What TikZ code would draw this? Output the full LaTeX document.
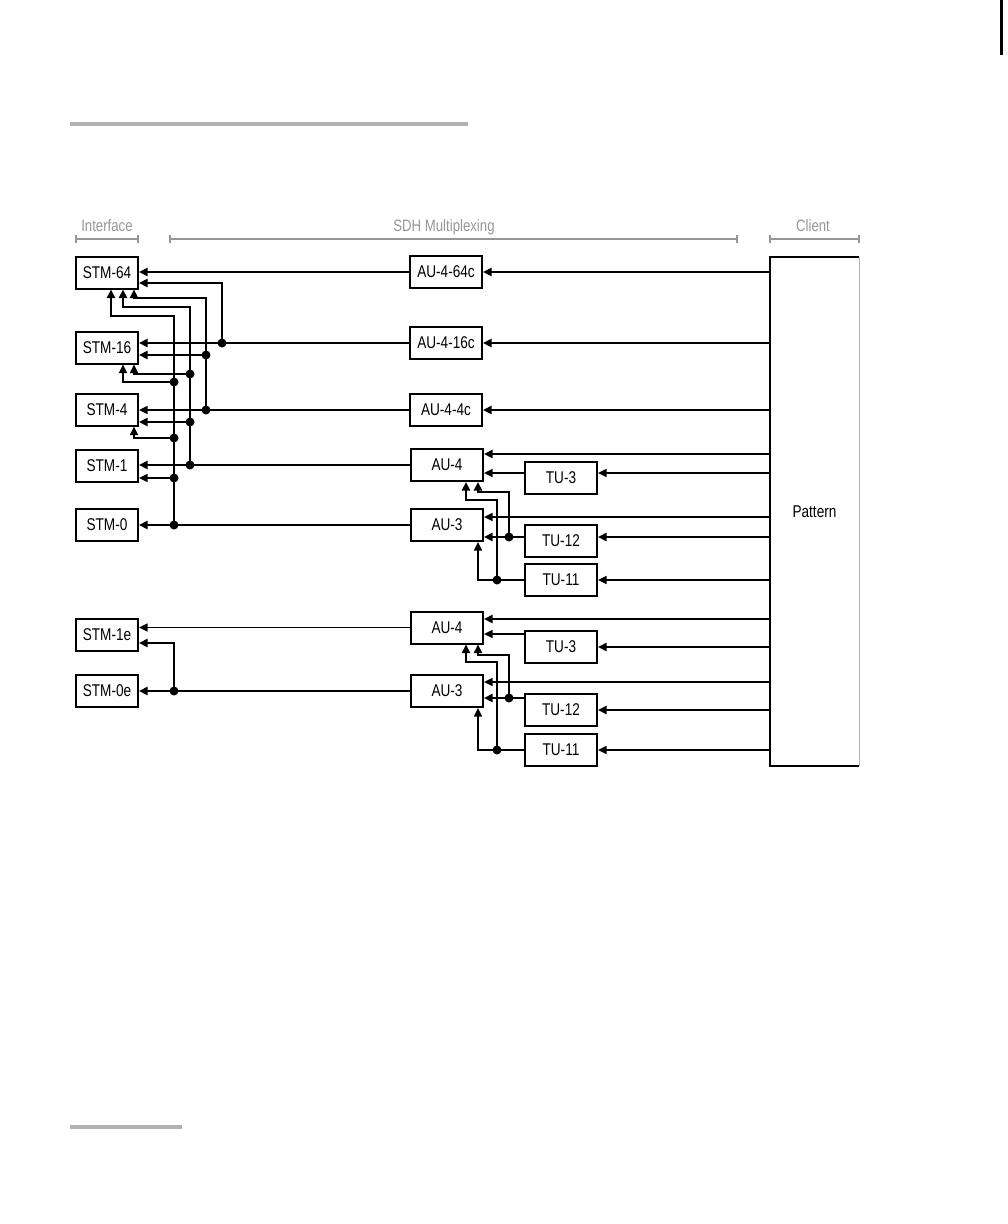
\documentclass[tikz,border=0pt]{standalone}
\usepackage{fontspec}
\setmainfont{Liberation Sans}[FakeStretch=0.8]
\usetikzlibrary{arrows.meta}
\definecolor{rulegray}{RGB}{178,178,178}
\definecolor{hdrgray}{RGB}{150,150,150}
\begin{document}
\begin{tikzpicture}[x=1pt,y=-1pt,
  box/.style={draw, line width=2pt, minimum width=62pt, minimum height=32pt, inner sep=0pt, font=\fontsize{17}{19}\selectfont},
  aubox/.style={box, minimum width=72pt},
  tk/.style={line width=2.6pt},
  tn/.style={line width=1.5pt},
  arr/.style={-{Triangle[length=8.5pt,width=8pt]}},
  hdr/.style={text=hdrgray, font=\fontsize{16.5}{18}\selectfont, inner sep=0pt},
  hl/.style={draw=hdrgray, line width=1.3pt},
  jdot/.style={fill=black}
]
\useasboundingbox (0,0) rectangle (1008,1224);

% page decorations
\draw[rulegray, line width=4pt] (70,124) -- (468,124);
\draw[rulegray, line width=4pt] (70,1127) -- (182,1127);
\draw[line width=3pt] (1001,0) -- (1001,55);

% headers
\node[hdr] (hint) at (107,226) {Interface};
\node[hdr] (hsdh) at (444,227) {SDH Multiplexing};
\node[hdr] (hcli) at (813,226) {Client};
\draw[hl] (76,235) -- (76,243) (76,239) -- (138,239) (138,235) -- (138,243);
\draw[hl] (170,235) -- (170,243) (170,239) -- (737,239) (737,235) -- (737,243);
\draw[hl] (770,235) -- (770,243) (770,239) -- (859,239) (859,235) -- (859,243);

% interface boxes
\node[box] (stm64) at (107,272.5) {STM-64};
\node[box] (stm16) at (107,347.5) {STM-16};
\node[box] (stm4)  at (107,409.5) {STM-4};
\node[box] (stm1)  at (107,465.5) {STM-1};
\node[box] (stm0)  at (107,525) {STM-0};
\node[box] (stm1e) at (107,635) {STM-1e};
\node[box] (stm0e) at (107,691) {STM-0e};

% AU boxes
\node[aubox] (au464) at (446,272) {AU-4-64c};
\node[aubox] (au416) at (446,343) {AU-4-16c};
\node[aubox] (au44)  at (446,410) {AU-4-4c};
\node[aubox] (au4a)  at (447,465) {AU-4};
\node[aubox] (au3a)  at (447,525) {AU-3};
\node[aubox] (au4b)  at (447,627.5) {AU-4};
\node[aubox] (au3b)  at (447,691) {AU-3};

% TU boxes
\node[aubox] (tu3a)  at (561,477.5) {TU-3};
\node[aubox] (tu12a) at (561,541) {TU-12};
\node[aubox] (tu11a) at (561,580) {TU-11};
\node[aubox] (tu3b)  at (561,647) {TU-3};
\node[aubox] (tu12b) at (561,710) {TU-12};
\node[aubox] (tu11b) at (561,749.5) {TU-11};

% Pattern
\node[minimum width=89pt, minimum height=509pt, inner sep=0pt, font=\fontsize{17}{19}\selectfont] (pat) at (814.5,511.5) {Pattern};
\draw[line width=2pt] (pat.north east) -- (pat.north west) -- (pat.south west) -- (pat.south east);
\draw[rulegray, line width=1pt] (pat.north east) -- (pat.south east);

% junctions
\coordinate (j16a) at (222,343);
\coordinate (j16b) at (206,355);
\coordinate (j4a)  at (206,410);
\coordinate (j16c) at (190,374);
\coordinate (j4b)  at (190,422);
\coordinate (j1a)  at (190,465);
\coordinate (j16d) at (174,382);
\coordinate (j4c)  at (174,438);
\coordinate (j1b)  at (174,478);
\coordinate (j0)   at (174,525);
\coordinate (j0e)  at (174,691);
\coordinate (k12a) at (509,537);
\coordinate (k11a) at (497,580);
\coordinate (k12b) at (509,698);
\coordinate (k11b) at (497,750);

% AU -> STM main lines
\draw[tk,arr] (au464.west) -- (stm64.east |- au464.west);
\draw[tk,arr] (au416.west) -- (stm16.east |- au416.west);
\draw[tn,arr] (au44.west)  -- (stm4.east |- au44.west);
\draw[tk,arr] (au4a.west)  -- (stm1.east |- au4a.west);
\draw[tk,arr] (au3a.west)  -- (stm0.east |- au3a.west);
\draw[tn,arr] (au4b.west)  -- (stm1e.east |- au4b.west);
\draw[tk,arr] (au3b.west)  -- (stm0e.east |- au3b.west);

% interface cross connections
\draw[tk,arr] (j16a) -- (j16a |- 0,283) -- (stm64.east |- 0,283);
\draw[tk,arr] (j0) -- (j0 |- 0,316) -- (111,316) -- (stm64.south -| 111,0);
\draw[tk,arr] (j1a) -- (j1a |- 0,307) -- (123,307) -- (stm64.south -| 123,0);
\draw[tk,arr] (j4a) -- (j4a |- 0,298) -- (134,298) -- (stm64.south -| 134,0);
\draw[tk,arr] (j16b) -- (stm16.east |- j16b);
\draw[tn,arr] (j16c) -- (134,374) -- (stm16.south -| 134,0);
\draw[tn,arr] (j16d) -- (123,382) -- (stm16.south -| 123,0);
\draw[tk,arr] (j4b) -- (stm4.east |- j4b);
\draw[tn,arr] (j4c) -- (134,438) -- (stm4.south -| 134,0);
\draw[tn,arr] (j1b) -- (stm1.east |- j1b);
\draw[tk,arr] (j0e) -- (j0e |- 0,643) -- (stm1e.east |- 0,643);

% Pattern -> upper group
\draw[tk,arr] (pat.west |- au464) -- (au464.east);
\draw[tk,arr] (pat.west |- au416) -- (au416.east);
\draw[tk,arr] (pat.west |- au44) -- (au44.east);
\draw[tk,arr] (pat.west |- 0,454) -- (au4a.east |- 0,454);
\draw[tn,arr] (pat.west |- 0,473) -- (tu3a.east |- 0,473);
\draw[tn,arr] (tu3a.west |- 0,473) -- (au4a.east |- 0,473);
\draw[tn,arr] (pat.west |- 0,517) -- (au3a.east |- 0,517);
\draw[tk,arr] (pat.west |- k12a) -- (tu12a.east |- k12a);
\draw[tk,arr] (tu12a.west |- k12a) -- (au3a.east |- k12a);
\draw[tn,arr] (pat.west |- tu11a) -- (tu11a.east);
\draw[tn,arr] (tu11a.west) -- (478,580) -- (au3a.south -| 478,0);
\draw[tk,arr] (k11a) -- (497,500) -- (466,500) -- (au4a.south -| 466,0);
\draw[tk,arr] (k12a) -- (509,492) -- (478,492) -- (au4a.south -| 478,0);

% Pattern -> lower group
\draw[tk,arr] (pat.west |- 0,619) -- (au4b.east |- 0,619);
\draw[tn,arr] (tu3b.west |- 0,634) -- (au4b.east |- 0,634);
\draw[tk,arr] (pat.west |- tu3b) -- (tu3b.east);
\draw[tn,arr] (pat.west |- 0,682) -- (au3b.east |- 0,682);
\draw[tk,arr] (tu12b.west |- k12b) -- (au3b.east |- k12b);
\draw[tk,arr] (pat.west |- tu12b) -- (tu12b.east);
\draw[tn,arr] (pat.west |- k11b) -- (tu11b.east |- k11b);
\draw[tn,arr] (tu11b.west |- k11b) -- (478,750) -- (au3b.south -| 478,0);
\draw[tk,arr] (k11b) -- (497,662) -- (466,662) -- (au4b.south -| 466,0);
\draw[tk,arr] (k12b) -- (509,655) -- (478,655) -- (au4b.south -| 478,0);

% junction dots
\foreach \j in {j16a,j16b,j4a,j16c,j4b,j1a,j16d,j4c,j1b,j0,j0e,k12a,k11a,k12b,k11b}
  \fill[jdot] (\j) circle (4.5);
\end{tikzpicture}
\end{document}
